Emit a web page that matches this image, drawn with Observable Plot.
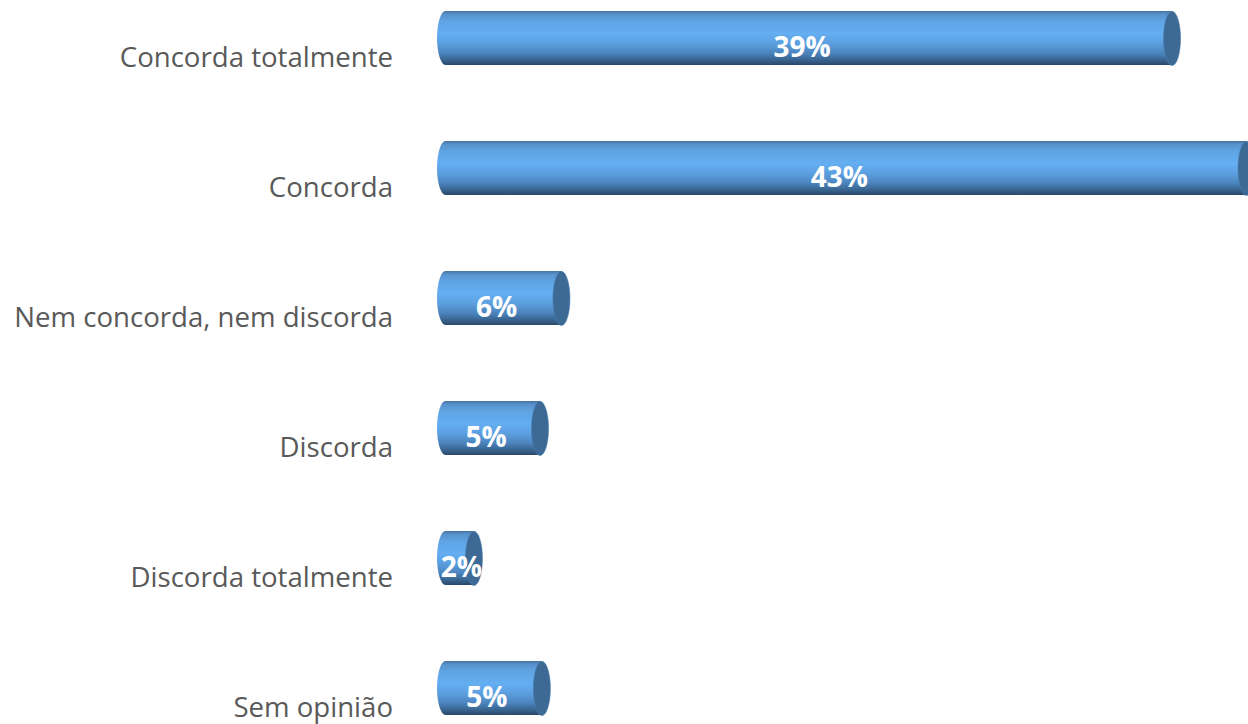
<!DOCTYPE html>
<html>
<head>
<meta charset="utf-8">
<script src="https://cdn.jsdelivr.net/npm/d3@7"></script>
<script src="https://cdn.jsdelivr.net/npm/@observablehq/plot@0.6"></script>
<style>
  html, body { margin: 0; padding: 0; background: #fff; overflow: hidden; }
  #chart svg { display: block; overflow: hidden; }
</style>
</head>
<body>
<div id="chart"></div>
<script>
const categories = ["Concorda totalmente", "Concorda", "Nem concorda, nem discorda", "Discorda", "Discorda totalmente", "Sem opinião"];
const values = [39, 43, 6.2, 5.05, 1.5, 5.15];
const valueLabels = ["39%", "43%", "6%", "5%", "2%", "5%"];

const data = categories.map((c, i) => ({category: c, value: values[i], label: valueLabels[i]}));

const RX = 8.5, RY = 27;
const ellipseSymbol = {
  draw(ctx) {
    const k = 0.5523;
    ctx.moveTo(RX, 0);
    ctx.bezierCurveTo(RX, k * RY, k * RX, RY, 0, RY);
    ctx.bezierCurveTo(-k * RX, RY, -RX, k * RY, -RX, 0);
    ctx.bezierCurveTo(-RX, -k * RY, -k * RX, -RY, 0, -RY);
    ctx.bezierCurveTo(k * RX, -RY, RX, -k * RY, RX, 0);
    ctx.closePath();
  }
};

const chart = Plot.plot({
  width: 1248,
  height: 724,
  marginLeft: 0, marginRight: 0, marginTop: 0, marginBottom: 0,
  style: {background: "#fff", overflow: "hidden"},
  x: {domain: [0, 43], range: [445.5, 1246], axis: null},
  y: {domain: categories, range: [9, 717], paddingInner: 0.587, paddingOuter: 0, axis: null},
  marks: [
    Plot.barX(data, {
      x: "value", y: "category",
      fill: "url(#cylGrad)",
      insetLeft: -RX, insetRight: -RX,
      rx: RX, ry: RY
    }),
    Plot.dot(data, {
      x: "value", y: "category",
      symbol: ellipseSymbol, r: 10,
      fill: "#3c6a95", stroke: "#4a7cab", strokeWidth: 0.6
    }),
    Plot.text(data, {
      x: d => Math.max(d.value / 2, 1.2), y: "category", text: "label",
      fill: "white", fontSize: 28, fontWeight: "bold",
      fontFamily: "'Open Sans', sans-serif",
      dx: -7, dy: 10
    }),
    Plot.text(data, {
      x: 0, y: "category", text: "category",
      textAnchor: "end", fill: "#595959", fontSize: 27.6,
      fontFamily: "'Open Sans', sans-serif",
      dx: -53, dy: 20
    })
  ]
});

const svg = d3.select(chart);
const defs = svg.insert("defs", ":first-child");
const g = defs.append("linearGradient").attr("id", "cylGrad")
  .attr("x1", 0).attr("y1", 0).attr("x2", 0).attr("y2", 1);
[[0, "#46739f"], [0.06, "#5791cc"], [0.2, "#5fa5e4"], [0.42, "#64aef2"], [0.6, "#5c9fdf"],
 [0.78, "#4b84bd"], [0.92, "#37608a"], [1, "#2b4868"]].forEach(([o, c]) =>
  g.append("stop").attr("offset", o).attr("stop-color", c));

document.getElementById("chart").appendChild(chart);
</script>
</body>
</html>
